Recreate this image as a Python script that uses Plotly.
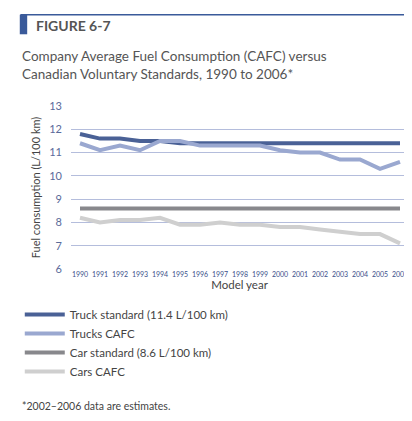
import plotly.graph_objects as go

years = list(range(1990, 2007))
truck_standard = [11.8, 11.6, 11.6, 11.5, 11.5, 11.4, 11.4, 11.4, 11.4, 11.4, 11.4, 11.4, 11.4, 11.4, 11.4, 11.4, 11.4]
trucks_cafc = [11.4, 11.1, 11.3, 11.1, 11.5, 11.5, 11.3, 11.3, 11.3, 11.3, 11.1, 11.0, 11.0, 10.7, 10.7, 10.3, 10.6]
car_standard = [8.6] * 17
cars_cafc = [8.2, 8.0, 8.1, 8.1, 8.2, 7.9, 7.9, 8.0, 7.9, 7.9, 7.8, 7.8, 7.7, 7.6, 7.5, 7.5, 7.1]

series = [
    ("Truck standard (11.4 L/100 km)", truck_standard, "#4a6196"),
    ("Trucks CAFC", trucks_cafc, "#9aa8d0"),
    ("Car standard (8.6 L/100 km)", car_standard, "#88888c"),
    ("Cars CAFC", cars_cafc, "#cfcfcf"),
]

fig = go.Figure()
for name, vals, col in series:
    fig.add_trace(go.Scatter(x=years, y=vals, name=name, mode="lines",
                             line=dict(color=col, width=4)))

fig.update_layout(
    width=412, height=421,
    margin=dict(l=63, r=12, t=98, b=160),
    paper_bgcolor="white", plot_bgcolor="white",
    font=dict(family="Lato", size=11, color="#555555"),
    showlegend=True,
    legend=dict(x=-0.152, y=-0.19, xanchor="left", yanchor="top",
                font=dict(size=11.5, color="#444444"), tracegroupgap=0,
                itemwidth=40, bgcolor="rgba(0,0,0,0)"),
    xaxis=dict(range=[1989.55, 2006.4], tickmode="array", tickvals=years, tickangle=0,
               ticktext=[str(y) for y in years], tickfont=dict(size=7, color="#3a4f8a"),
               showgrid=False, zeroline=False,
               title=dict(text="Model year", font=dict(size=11.5, color="#444444"), standoff=2)),
    yaxis=dict(range=[6, 13], dtick=1, tickfont=dict(size=11, color="#5a6a9a"),
               showgrid=True, gridcolor="#b4bddc", gridwidth=1, zeroline=False,
               ticks="", ticklen=0, ticklabelstandoff=8,
               title=dict(text="Fuel consumption (L/100 km)", font=dict(size=11, color="#444444"), standoff=6)),
)

# header bar and rule
fig.add_shape(type="line", xref="paper", yref="paper", x0=-0.15, x1=1.0, y0=1.56, y1=1.56,
              line=dict(color="#3a5a9a", width=1.5))
fig.add_shape(type="rect", xref="paper", yref="paper", x0=-0.152, x1=-0.13, y0=1.44, y1=1.56,
              fillcolor="#3a5a9a", line=dict(width=0))
fig.add_annotation(text="<b>FIGURE 6-7</b>", xref="paper", yref="paper", x=-0.11, y=1.495,
                   xanchor="left", yanchor="middle", showarrow=False,
                   font=dict(size=14, color="#555555"))
fig.add_annotation(text="Company Average Fuel Consumption (CAFC) versus<br>Canadian Voluntary Standards, 1990 to 2006*",
                   xref="paper", yref="paper", x=-0.152, y=1.37, xanchor="left", yanchor="top",
                   align="left", showarrow=False, font=dict(size=13.5, color="#555555"))
fig.add_annotation(text="*2002–2006 data are estimates.", xref="paper", yref="paper",
                   x=-0.152, y=-0.84, xanchor="left", yanchor="middle", showarrow=False,
                   font=dict(size=10.5, color="#444444"))

fig.write_html("out.html")
